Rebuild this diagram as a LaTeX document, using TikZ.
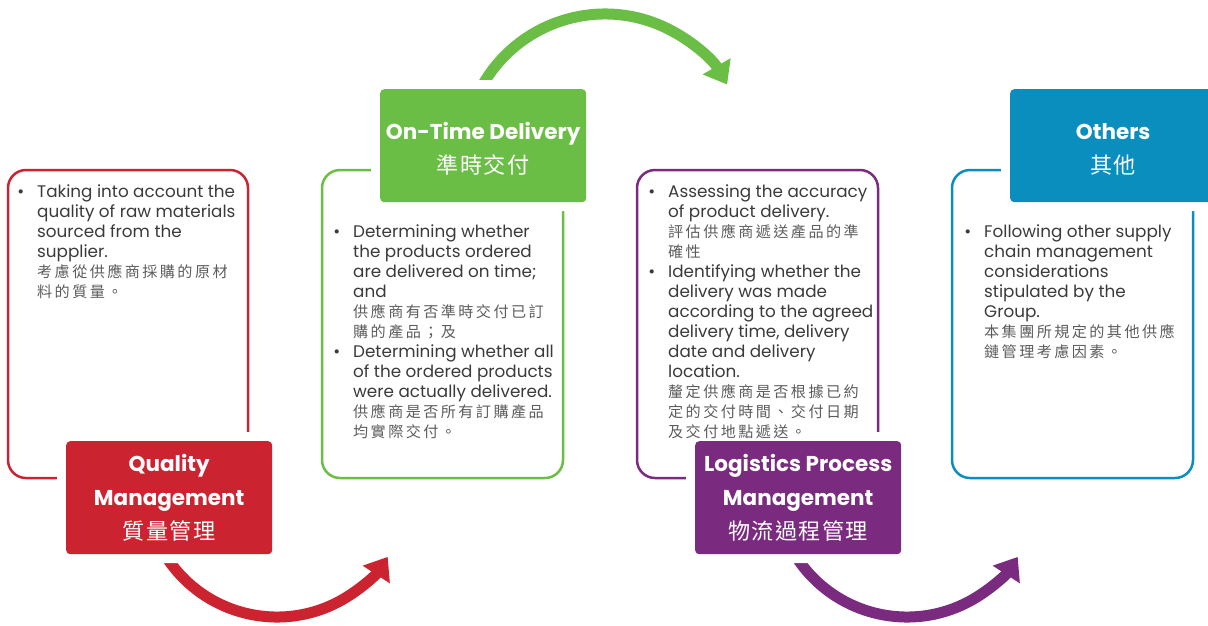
\documentclass[tikz,border=0pt]{standalone}
\usepackage{fontspec}
\setmainfont{Poppins}
\newfontfamily\cjk[Scale=0.9,LetterSpace=16]{Noto Sans CJK TC}
\newfontfamily\cjkb[Scale=1.03,LetterSpace=6]{Noto Sans CJK TC}
\usetikzlibrary{arrows.meta}
\definecolor{qred}{HTML}{CB2430}
\definecolor{qgreen}{HTML}{6BBE45}
\definecolor{qpurple}{HTML}{7A2A7F}
\definecolor{qblue}{HTML}{0A8EBE}
\definecolor{bodytext}{HTML}{3A3A3A}
\definecolor{cjktext}{HTML}{5C5C5C}
\newcommand{\bul}{\llap{\textbullet\hspace{13pt}}}
\newcommand{\zh}[1]{{\cjk\color{cjktext}#1}}
\newcommand{\lift}{\rule{0pt}{24pt}}
\tikzset{
  outline/.style={line width=2.5pt, rounded corners=18pt},
  lab/.style={preaction={draw=white,line width=18pt}, rounded corners=4pt,
    minimum width=206pt, minimum height=113pt, anchor=north west, inner sep=0pt,
    text=white, align=center, font=\bfseries\fontsize{21.5}{34}\selectfont},
  body/.style={anchor=base west, align=left, inner sep=0pt, text=bodytext,
    font=\fontsize{16.8}{20}\selectfont},
  flow/.style={line width=11pt, -{Triangle[length=21pt,width=31pt]}}
}
\begin{document}
\begin{tikzpicture}[x=1pt,y=-1pt]
\clip (0,0) rectangle (1208,625);
\useasboundingbox (0,0) rectangle (1208,625);
% centres of the arcs
\coordinate (c1) at (277,485);
\coordinate (c2) at (605,155);
\coordinate (c3) at (907,485);
% arrows
\draw[flow, qred] (c1) ++(150:132) arc[start angle=150, end angle=33, radius=132];
\draw[flow, qgreen] (c2) ++(205:141) arc[start angle=205, end angle=330, radius=141];
\draw[flow, qpurple] (c3) ++(150:132) arc[start angle=150, end angle=33, radius=132];
% outline boxes
\draw[outline, qred] (8,170) rectangle (248,478);
\draw[outline, qgreen] (322,170) rectangle (563,478);
\draw[outline, qpurple] (637,170) rectangle (878,478);
\draw[outline, qblue] (952,170) rectangle (1193,478);
% label boxes
\node[lab, fill=qred] (ql) at (66,441) {Quality\\Management\\{\mdseries\cjkb 質量管理}};
\node[lab, fill=qgreen] (dl) at (380,89) {\lift On-Time Delivery\\{\mdseries\cjkb 準時交付}};
\node[lab, fill=qpurple] (pl) at (695,441) {Logistics Process\\Management\\{\mdseries\cjkb 物流過程管理}};
\node[lab, fill=qblue] (ol) at (1010,89) {\lift Others\\{\mdseries\cjkb 其他}};
% body texts (anchored at the baseline of the last line)
\node[body] (qt) at (37,297) {\bul Taking into account the\\quality of raw materials\\sourced from the\\supplier.\\\zh{考慮從供應商採購的原材}\\\zh{料的質量。}};
\node[body] (dt) at (353,437) {\bul Determining whether\\the products ordered\\are delivered on time;\\and\\\zh{供應商有否準時交付已訂}\\\zh{購的產品；及}\\\bul Determining whether all\\of the ordered products\\were actually delivered.\\\zh{供應商是否所有訂購產品}\\\zh{均實際交付。}};
\node[body] (pt) at (668,437) {\bul Assessing the accuracy\\of product delivery.\\\zh{評估供應商遞送產品的準}\\\zh{確性}\\\bul Identifying whether the\\delivery was made\\according to the agreed\\delivery time, delivery\\date and delivery\\location.\\\zh{釐定供應商是否根據已約}\\\zh{定的交付時間、交付日期}\\\zh{及交付地點遞送。}};
\node[body] (ot) at (984,357) {\bul Following other supply\\chain management\\considerations\\stipulated by the\\Group.\\\zh{本集團所規定的其他供應}\\\zh{鏈管理考慮因素。}};
\end{tikzpicture}
\end{document}
